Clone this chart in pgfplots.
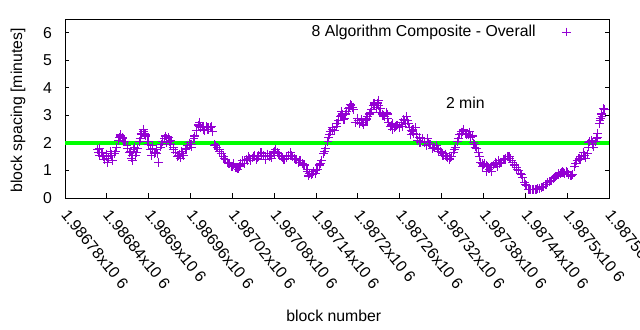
\documentclass[border=0pt]{standalone}
\usepackage{pgfplots}
\pgfplotsset{compat=1.18}
\usepackage{fontspec}
\setmainfont{Liberation Sans}
\definecolor{gpviolet}{HTML}{9400D3}
\definecolor{gpgreen}{HTML}{00FF00}
\pgfplotstableread{
x y
1986827 1.75
1986830 1.55
1986833 1.65
1986836 1.40
1986839 1.60
1986842 1.45
1986845 1.70
1986848 1.35
1986851 1.60
1986854 1.85
1986857 2.10
1986860 2.25
1986863 2.15
1986866 2.05
1986869 1.90
1986872 1.65
1986875 1.45
1986878 1.75
1986881 1.55
1986884 1.80
1986887 2.05
1986890 2.30
1986893 2.40
1986896 2.25
1986899 2.05
1986902 1.75
1986905 1.90
1986908 1.60
1986911 1.75
1986914 1.30
1986917 1.85
1986920 2.05
1986923 2.15
1986926 2.00
1986929 2.20
1986932 2.10
1986935 1.85
1986938 1.65
1986941 1.50
1986944 1.60
1986947 1.70
1986950 1.55
1986953 1.75
1986956 1.90
1986959 2.00
1986962 1.85
1986965 2.15
1986968 2.45
1986971 2.65
1986974 2.55
1986977 2.60
1986980 2.45
1986983 2.60
1986986 2.50
1986989 2.55
1986992 2.40
1986995 1.95
1986998 1.85
1987001 1.75
1987004 1.60
1987007 1.50
1987010 1.40
1987013 1.30
1987016 1.25
1987019 1.15
1987022 1.20
1987025 1.10
1987028 1.05
1987031 1.20
1987034 1.35
1987037 1.25
1987040 1.40
1987043 1.50
1987046 1.35
1987049 1.45
1987052 1.55
1987055 1.40
1987058 1.50
1987061 1.65
1987064 1.55
1987067 1.40
1987070 1.60
1987073 1.50
1987076 1.45
1987079 1.65
1987082 1.75
1987085 1.65
1987088 1.55
1987091 1.50
1987094 1.40
1987097 1.45
1987100 1.55
1987103 1.65
1987106 1.50
1987109 1.45
1987112 1.40
1987115 1.30
1987118 1.35
1987121 1.25
1987124 1.20
1987127 1.05
1987130 0.90
1987133 0.85
1987136 0.95
1987139 0.90
1987142 1.05
1987145 1.20
1987148 1.35
1987151 1.60
1987154 1.80
1987157 2.05
1987160 2.40
1987163 2.55
1987166 2.45
1987169 2.60
1987172 2.80
1987175 2.95
1987178 3.05
1987181 2.90
1987184 3.15
1987187 3.25
1987190 3.35
1987193 3.30
1987196 2.75
1987199 2.90
1987202 2.70
1987205 2.85
1987208 2.65
1987211 2.80
1987214 2.95
1987217 3.05
1987220 3.20
1987223 3.45
1987226 3.30
1987229 3.55
1987232 3.25
1987235 3.05
1987238 2.95
1987241 3.10
1987244 2.75
1987247 2.60
1987250 2.50
1987253 2.55
1987256 2.65
1987259 2.55
1987262 2.75
1987265 2.85
1987268 2.70
1987271 2.80
1987274 2.55
1987277 2.45
1987280 2.35
1987283 2.55
1987286 2.10
1987289 2.00
1987292 2.15
1987295 2.05
1987298 1.90
1987301 2.00
1987304 1.95
1987307 1.80
1987310 1.85
1987313 1.90
1987316 1.75
1987319 1.70
1987322 1.55
1987325 1.60
1987328 1.45
1987331 1.40
1987334 1.50
1987337 1.65
1987340 1.85
1987343 2.05
1987346 2.30
1987349 2.40
1987352 2.45
1987355 2.35
1987358 2.30
1987361 2.20
1987364 2.25
1987367 1.95
1987370 1.80
1987373 1.65
1987376 1.30
1987379 1.15
1987382 1.25
1987385 1.20
1987388 1.05
1987391 0.95
1987394 1.20
1987397 1.30
1987400 1.15
1987403 1.25
1987406 1.30
1987409 1.40
1987412 1.45
1987415 1.50
1987418 1.45
1987421 1.35
1987424 1.20
1987427 1.10
1987430 1.00
1987433 0.90
1987436 0.75
1987439 0.55
1987442 0.45
1987445 0.32
1987448 0.30
1987451 0.30
1987454 0.32
1987457 0.33
1987460 0.35
1987463 0.38
1987466 0.42
1987469 0.48
1987472 0.55
1987475 0.60
1987478 0.65
1987481 0.72
1987484 0.80
1987487 0.85
1987490 0.90
1987493 0.95
1987496 0.90
1987499 0.95
1987502 0.85
1987505 0.80
1987508 0.85
1987511 1.15
1987514 1.35
1987517 1.45
1987520 1.50
1987523 1.65
1987526 1.45
1987529 1.60
1987532 2.05
1987535 2.10
1987538 1.85
1987541 2.05
1987544 2.35
1987547 2.80
1987550 2.95
1987553 3.20
1986829 1.80
1986835 1.50
1986841 1.30
1986847 1.55
1986859 2.30
1986862 2.20
1986874 1.70
1986877 1.35
1986880 1.85
1986889 2.35
1986892 2.50
1986895 2.30
1986904 1.55
1986910 1.65
1986925 2.15
1986931 1.95
1986946 1.45
1986961 1.95
1986973 2.75
1986979 2.50
1986985 2.55
1986994 1.90
1987021 1.25
1987030 1.15
1987042 1.35
1987057 1.55
1987081 1.70
1987129 0.80
1987135 0.90
1987159 2.30
1987177 3.15
1987180 2.85
1987189 3.40
1987213 2.85
1987222 3.35
1987228 3.45
1987231 3.10
1987243 3.05
1987249 2.70
1987264 2.60
1987270 2.95
1987276 2.30
1987279 2.50
1987288 2.20
1987300 2.15
1987315 1.70
1987321 1.60
1987327 1.50
1987348 2.35
1987351 2.50
1987360 2.40
1987366 2.00
1987378 1.25
1987384 0.95
1987390 1.10
1987402 1.35
1987411 1.40
1987417 1.50
1987447 0.31
1987456 0.31
1987480 0.70
1987492 0.92
1987519 1.40
1987525 1.55
1987531 2.00
1987537 1.95
1987543 2.20
1987546 2.70
1987549 3.05
1987552 3.25
1986828 1.65
1986834 1.55
1986840 1.50
1986846 1.60
1986852 1.70
1986858 2.20
1986864 2.05
1986870 1.80
1986876 1.55
1986882 1.65
1986888 2.15
1986894 2.35
1986900 1.95
1986906 1.80
1986912 1.60
1986918 1.95
1986924 2.25
1986930 2.05
1986936 1.75
1986942 1.55
1986948 1.60
1986954 1.80
1986960 1.95
1986966 2.25
1986972 2.60
1986978 2.55
1986984 2.50
1986990 2.60
1986996 1.90
1987002 1.70
1987008 1.45
1987014 1.25
1987020 1.15
1987026 1.10
1987032 1.25
1987038 1.35
1987044 1.45
1987050 1.50
1987056 1.45
1987062 1.60
1987068 1.50
1987074 1.55
1987080 1.60
1987086 1.60
1987092 1.45
1987098 1.50
1987104 1.55
1987110 1.40
1987116 1.35
1987122 1.20
1987128 0.95
1987134 0.90
1987140 1.00
1987146 1.25
1987152 1.70
1987158 2.20
1987164 2.50
1987170 2.70
1987176 3.00
1987182 3.05
1987188 3.30
1987194 3.20
1987200 2.80
1987206 2.75
1987212 2.90
1987218 3.10
1987224 3.40
1987230 3.35
1987236 3.00
1987242 2.90
1987248 2.65
1987254 2.60
1987260 2.60
1987266 2.80
1987272 2.70
1987278 2.40
1987284 2.30
1987290 2.05
1987296 2.00
1987302 1.95
1987308 1.85
1987314 1.80
1987320 1.65
1987326 1.55
1987332 1.45
1987338 1.75
1987344 2.15
1987350 2.40
1987356 2.30
1987362 2.25
1987368 1.85
1987374 1.50
1987380 1.20
1987386 1.15
1987392 1.10
1987398 1.25
1987404 1.30
1987410 1.40
1987416 1.50
1987422 1.30
1987428 1.05
1987434 0.85
1987440 0.50
1987446 0.31
1987452 0.30
1987458 0.34
1987464 0.40
1987470 0.50
1987476 0.62
1987482 0.75
1987488 0.88
1987494 0.92
1987500 0.93
1987506 0.82
1987512 1.25
1987518 1.40
1987524 1.55
1987530 1.85
1987536 2.00
1987542 2.15
1987548 2.90
}\datatable
\begin{document}
\fontsize{15.8bp}{19bp}\selectfont
\begin{tikzpicture}
\path[use as bounding box] (0,0) rectangle (640bp,330bp);
\begin{axis}[
  at={(65bp,132bp)}, anchor=south west,
  width=544bp, height=179bp, scale only axis,
  xmin=1986780, xmax=1987560, ymin=0, ymax=6.5,
  scaled x ticks=false,
  /pgf/number format/assume math mode=true,
  xtick={1986780,1986840,1986900,1986960,1987020,1987080,1987140,1987200,1987260,1987320,1987380,1987440,1987500,1987560},
  xticklabels={1.98678x10 6,1.98684x10 6,1.9869x10 6,1.98696x10 6,1.98702x10 6,1.98708x10 6,1.98714x10 6,1.9872x10 6,1.98726x10 6,1.98732x10 6,1.98738x10 6,1.98744x10 6,1.9875x10 6,1.98756x10 6},
  ytick={0,1,2,3,4,5,6},
  xtick pos=bottom, ytick pos=both,
  tick align=inside,
  major tick length=4.5bp,
  axis line style={line width=0.9bp},
  tick style={line width=0.9bp, black},
  xticklabel style={xshift=5bp, yshift=-3bp, rotate=-51, anchor=north west},
  yticklabel style={xshift=-7.5bp},
  xlabel={block number},
  ylabel={block spacing [minutes]},
  every axis x label/.style={at={(axis description cs:0.494,-0.659)}, anchor=center},
  every axis y label/.style={at={(axis description cs:-0.0864,0.489)}, rotate=90, anchor=center},
  legend plot pos=right,
  legend style={draw=none, fill=none, inner sep=0pt, at={(axis description cs:0.930,0.927)}, anchor=east},
  legend image code/.code={\path (0bp,0bp) (32bp,0bp); \draw[mark=+, mark size=4.4bp, line width=1.1bp, gpviolet] plot coordinates {(28bp,0bp)};},
  clip=false,
]
\addplot[scatter, only marks, mark=+, mark size=4.4bp, line width=1.1bp,
  scatter src=y, scatter/use mapped color={draw=gpviolet, fill=gpviolet}] table[x=x,y=y] {\datatable};
\addlegendentry{8 Algorithm Composite - Overall}
\addplot[gpgreen, line width=4bp, forget plot] coordinates {(1986780,2) (1987560,2)};
\node at (axis cs:1987354,3.47) {2 min};
\end{axis}
\end{tikzpicture}
\end{document}
